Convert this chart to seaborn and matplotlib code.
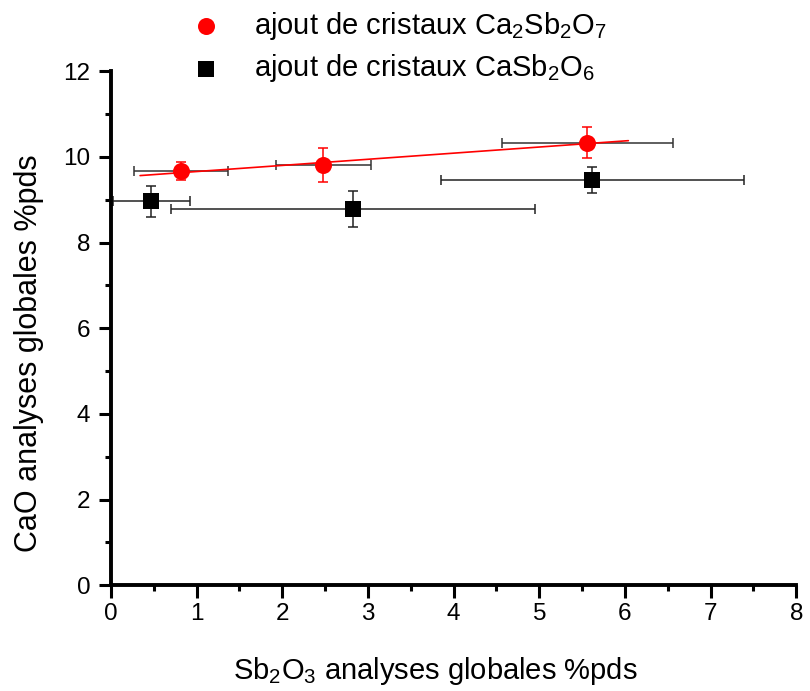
import numpy as np
import pandas as pd
import seaborn as sns
import matplotlib.pyplot as plt
from matplotlib.ticker import MultipleLocator

# données
x_ca2 = [0.82, 2.48, 5.56]
y_ca2 = [9.67, 9.81, 10.33]
xerr_ca2 = [0.55, 0.55, 1.0]
yerr_ca2 = [0.22, 0.40, 0.36]

x_ca1 = [0.47, 2.83, 5.62]
y_ca1 = [8.96, 8.79, 9.46]
xerr_ca1 = [0.45, 2.125, 1.77]
yerr_ca1 = [0.37, 0.42, 0.30]

fit_range = [0.34, 6.04]

sns.set_style('ticks', {'axes.edgecolor': 'black', 'xtick.color': 'black',
                        'ytick.color': 'black', 'text.color': 'black',
                        'axes.labelcolor': 'black'})
plt.rcParams['font.family'] = ['Liberation Sans', 'DejaVu Sans']
plt.rcParams['mathtext.default'] = 'regular'

df1 = pd.DataFrame({'x': x_ca2, 'y': y_ca2})
df2 = pd.DataFrame({'x': x_ca1, 'y': y_ca1})

fig = plt.figure(figsize=(8.1, 6.91), dpi=100)
ax = fig.add_axes([0.137, 0.153, 0.846, 0.744])

# barres d'erreur
ax.errorbar(x_ca2, y_ca2, xerr=xerr_ca2, fmt='none', ecolor='#333333',
            elinewidth=1.1, capsize=3.5, capthick=1.1, zorder=2)
ax.errorbar(x_ca2, y_ca2, yerr=yerr_ca2, fmt='none', ecolor='red',
            elinewidth=1.1, capsize=3.5, capthick=1.1, zorder=2)
ax.errorbar(x_ca1, y_ca1, xerr=xerr_ca1, yerr=yerr_ca1, fmt='none',
            ecolor='#222222', elinewidth=1.1, capsize=3.5, capthick=1.1, zorder=2)

# droite de régression (rouge)
slope, inter = np.polyfit(x_ca2, y_ca2, 1)
xf = np.array(fit_range)
df_fit = pd.DataFrame({'x': xf, 'y': slope * xf + inter})
sns.lineplot(data=df_fit, x='x', y='y', color='red', linewidth=1.2, ax=ax, zorder=3)

sns.scatterplot(data=df1, x='x', y='y', marker='o', s=150, color='red',
                edgecolor='red', linewidth=0, ax=ax, zorder=4,
                label=r'ajout de cristaux Ca$_2$Sb$_2$O$_7$')
sns.scatterplot(data=df2, x='x', y='y', marker='s', s=117, color='black',
                edgecolor='black', linewidth=0, ax=ax, zorder=4,
                label=r'ajout de cristaux CaSb$_2$O$_6$')

ax.set_xlim(0, 8)
ax.set_ylim(0, 12)
ax.xaxis.set_major_locator(MultipleLocator(1))
ax.xaxis.set_minor_locator(MultipleLocator(0.5))
ax.yaxis.set_major_locator(MultipleLocator(2))
ax.yaxis.set_minor_locator(MultipleLocator(1))
ax.tick_params(which='major', direction='out', length=9, width=2.2, labelsize=17.5)
ax.tick_params(which='minor', direction='out', length=4.5, width=2.2)
ax.tick_params(axis='y', which='major', pad=6)
sns.despine(ax=ax)
for s in ['left', 'bottom']:
    ax.spines[s].set_linewidth(2.8)

ax.set_xlabel(r'Sb$_2$O$_3$ analyses globales %pds', fontsize=21)
ax.set_ylabel('CaO analyses globales %pds', fontsize=22)
ax.xaxis.set_label_coords(0.474, -0.135)
ax.yaxis.set_label_coords(-0.097, 0.451)

ax.legend(loc='upper left', bbox_to_anchor=(0.104, 1.119), frameon=False,
          fontsize=21, handletextpad=0.85, labelspacing=0.35, handlelength=1.6,
          borderpad=0, borderaxespad=0)

fig.savefig('out.png', dpi=100)
